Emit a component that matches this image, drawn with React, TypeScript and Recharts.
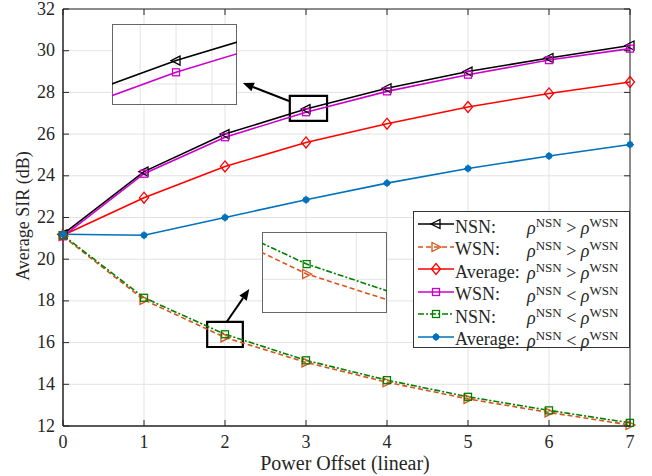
import React from 'react'
import {
  LineChart,
  Line,
  XAxis,
  YAxis,
  CartesianGrid,
  ReferenceArea,
  ReferenceLine,
  Legend,
  Label,
} from 'recharts'

const xVals = [0, 1, 2, 3, 4, 5, 6, 7]
const nsnHigh = [21.2, 24.2, 26.0, 27.2, 28.2, 29.0, 29.65, 30.25]
const wsnHigh = [21.1, 18.05, 16.25, 15.05, 14.1, 13.3, 12.65, 12.05]
const avgHigh = [21.15, 22.95, 24.45, 25.6, 26.5, 27.3, 27.95, 28.5]
const wsnLow = [21.1, 24.1, 25.85, 27.05, 28.05, 28.85, 29.55, 30.1]
const nsnLow = [21.15, 18.15, 16.4, 15.15, 14.2, 13.4, 12.75, 12.15]
const avgLow = [21.2, 21.15, 22.0, 22.85, 23.65, 24.35, 24.95, 25.5]

const xTicks = [0, 1, 2, 3, 4, 5, 6, 7]
const yTicks = [12, 14, 16, 18, 20, 22, 24, 26, 28, 30, 32]

const rows = xVals.map((x, i) => ({
  x,
  nsnHigh: nsnHigh[i],
  wsnHigh: wsnHigh[i],
  avgHigh: avgHigh[i],
  wsnLow: wsnLow[i],
  nsnLow: nsnLow[i],
  avgLow: avgLow[i],
}))

const FONT = '"Liberation Serif", "Times New Roman", serif'
const INK = '#262626'
const GRID = '#e3e3e3'

const PLOT_LEFT = 63
const PLOT_RIGHT = 630
const PLOT_TOP = 9
const PLOT_BOTTOM = 426

// markers
const triLeft = (color: string) => (p: any) => {
  const { cx, cy, index } = p
  if (cx == null || cy == null) return <g key={index} />
  return (
    <polygon
      key={index}
      points={`${cx - 5},${cy} ${cx + 4},${cy - 4.5} ${cx + 4},${cy + 4.5}`}
      fill="none"
      stroke={color}
      strokeWidth={1.3}
    />
  )
}
const triRight = (color: string) => (p: any) => {
  const { cx, cy, index } = p
  if (cx == null || cy == null) return <g key={index} />
  return (
    <polygon
      key={index}
      points={`${cx + 5},${cy} ${cx - 4},${cy - 4.5} ${cx - 4},${cy + 4.5}`}
      fill="none"
      stroke={color}
      strokeWidth={1.3}
    />
  )
}
const diamond = (color: string) => (p: any) => {
  const { cx, cy, index } = p
  if (cx == null || cy == null) return <g key={index} />
  return (
    <polygon
      key={index}
      points={`${cx},${cy - 5.5} ${cx + 4.5},${cy} ${cx},${cy + 5.5} ${cx - 4.5},${cy}`}
      fill="none"
      stroke={color}
      strokeWidth={1.3}
    />
  )
}
const square = (color: string) => (p: any) => {
  const { cx, cy, index } = p
  if (cx == null || cy == null) return <g key={index} />
  return <rect key={index} x={cx - 3.5} y={cy - 3.5} width={7} height={7} fill="none" stroke={color} strokeWidth={1.3} />
}
const star = (color: string) => (p: any) => {
  const { cx, cy, index } = p
  if (cx == null || cy == null) return <g key={index} />
  return (
    <g key={index}>
      <circle cx={cx} cy={cy} r={3.2} fill={color} />
      <path d={`M${cx - 4},${cy} L${cx + 4},${cy} M${cx},${cy - 4} L${cx},${cy + 4}`} stroke={color} strokeWidth={1.2} />
    </g>
  )
}

const SERIES = [
  { key: 'nsnHigh', color: '#000000', dash: undefined, dot: triLeft('#000000'), who: 'NSN:', op: '>' },
  { key: 'wsnHigh', color: '#D95319', dash: '5 3', dot: triRight('#D95319'), who: 'WSN:', op: '>' },
  { key: 'avgHigh', color: '#FF0000', dash: undefined, dot: diamond('#FF0000'), who: 'Average:', op: '>' },
  { key: 'wsnLow', color: '#CC00CC', dash: undefined, dot: square('#CC00CC'), who: 'WSN:', op: '<' },
  { key: 'nsnLow', color: '#008000', dash: '6 2 2 2', dot: square('#008000'), who: 'NSN:', op: '<' },
  { key: 'avgLow', color: '#0072BD', dash: undefined, dot: star('#0072BD'), who: 'Average:', op: '<' },
]

const XTick = (p: any) => {
  const { x, payload } = p
  return (
    <g>
      <line x1={x} y1={PLOT_BOTTOM} x2={x} y2={PLOT_BOTTOM - 6} stroke={INK} />
      <line x1={x} y1={PLOT_TOP} x2={x} y2={PLOT_TOP + 6} stroke={INK} />
      <text x={x} y={PLOT_BOTTOM + 22} textAnchor="middle" fontFamily={FONT} fontSize={18} fill={INK}>
        {payload.value}
      </text>
    </g>
  )
}

const YTick = (p: any) => {
  const { y, payload } = p
  return (
    <g>
      <line x1={PLOT_LEFT} y1={y} x2={PLOT_LEFT + 6} y2={y} stroke={INK} />
      <line x1={PLOT_RIGHT} y1={y} x2={PLOT_RIGHT - 6} y2={y} stroke={INK} />
      <text x={PLOT_LEFT - 8} y={y + 5.5} textAnchor="end" fontFamily={FONT} fontSize={18} fill={INK}>
        {payload.value}
      </text>
    </g>
  )
}

const Arrow = (p: any) => {
  const { x1, y1, x2, y2 } = p
  const a = Math.atan2(y2 - y1, x2 - x1)
  const L = 11
  const W = 4.5
  const bx = x2 - L * Math.cos(a)
  const by = y2 - L * Math.sin(a)
  const nx = -Math.sin(a)
  const ny = Math.cos(a)
  return (
    <g>
      <line x1={x1} y1={y1} x2={bx} y2={by} stroke="#000" strokeWidth={2} />
      <polygon points={`${x2},${y2} ${bx + nx * W},${by + ny * W} ${bx - nx * W},${by - ny * W}`} fill="#000" />
    </g>
  )
}

function LegendBox() {
  return (
    <div
      style={{
        position: 'absolute',
        left: 413,
        top: 211,
        width: 217,
        height: 137,
        border: '1px solid #333',
        background: '#fff',
        fontFamily: FONT,
        fontSize: 18,
        color: INK,
        boxSizing: 'border-box',
        padding: '1px 0 0 3px',
      }}
    >
      {SERIES.map((s) => (
        <div key={s.key} style={{ height: 22.5, display: 'flex', alignItems: 'center', whiteSpace: 'nowrap' }}>
          <svg width={38} height={14} style={{ flex: 'none' }}>
            <line x1={1} y1={7} x2={37} y2={7} stroke={s.color} strokeWidth={1.5} strokeDasharray={s.dash} />
            {s.dot({ cx: 19, cy: 7, index: 0 })}
          </svg>
          <span style={{ display: 'inline-block', width: 72, paddingTop: 6 }}>{s.who}</span>
          <span style={{ paddingTop: 6 }}>
            <i>ρ</i>
            <sup style={{ fontSize: 13, verticalAlign: 7 }}>NSN</sup> {s.op} <i>ρ</i>
            <sup style={{ fontSize: 13, verticalAlign: 7 }}>WSN</sup>
          </span>
        </div>
      ))}
    </div>
  )
}

interface InsetProps {
  left: number
  top: number
  width: number
  height: number
  xDomain: [number, number]
  yDomain: [number, number]
  xTicks: number[]
  yTicks: number[]
  keys: string[]
}

function Inset({ left, top, width, height, xDomain, yDomain, xTicks, yTicks, keys }: InsetProps) {
  return (
    <div style={{ position: 'absolute', left, top, width, height, background: '#fff' }}>
      <LineChart width={width} height={height} data={rows} margin={{ top: 0, right: 0, bottom: 0, left: 0 }}>
        <CartesianGrid stroke={GRID} />
        <XAxis dataKey="x" type="number" domain={xDomain} ticks={xTicks} allowDataOverflow hide />
        <YAxis type="number" domain={yDomain} ticks={yTicks} allowDataOverflow hide />
        {SERIES.filter((s) => keys.includes(s.key)).map((s) => (
          <Line
            key={s.key}
            type="linear"
            dataKey={s.key}
            stroke={s.color}
            strokeWidth={1.6}
            strokeDasharray={s.dash}
            dot={s.dot}
            activeDot={false}
            isAnimationActive={false}
          />
        ))}
        <ReferenceArea
          x1={xDomain[0]}
          x2={xDomain[1]}
          y1={yDomain[0]}
          y2={yDomain[1]}
          fill="none"
          stroke="#666"
          strokeWidth={2}
          ifOverflow="visible"
        />
      </LineChart>
    </div>
  )
}

export default function App() {
  return (
    <div style={{ position: 'absolute', left: 0, top: 0, width: 652, height: 476, background: '#fff' }}>
      <LineChart
        width={652}
        height={476}
        data={rows}
        margin={{ top: PLOT_TOP, right: 652 - PLOT_RIGHT, bottom: 0, left: 0 }}
      >
        <CartesianGrid stroke={GRID} />
        <XAxis
          dataKey="x"
          type="number"
          domain={[0, 7]}
          ticks={xTicks}
          height={476 - PLOT_BOTTOM}
          tick={XTick}
          tickLine={false}
          axisLine={{ stroke: INK }}
        >
          <Label
            content={() => (
              <text x={345} y={470} textAnchor="middle" fontFamily={FONT} fontSize={20} fill={INK}>
                Power Offset (linear)
              </text>
            )}
          />
        </XAxis>
        <YAxis
          type="number"
          domain={[12, 32]}
          ticks={yTicks}
          width={PLOT_LEFT}
          tick={YTick}
          tickLine={false}
          axisLine={{ stroke: INK }}
        >
          <Label
            content={() => (
              <text
                x={29}
                y={216}
                textAnchor="middle"
                fontFamily={FONT}
                fontSize={18}
                fill={INK}
                transform="rotate(-90 29 216)"
              >
                Average SIR (dB)
              </text>
            )}
          />
        </YAxis>
        <ReferenceArea x1={0} x2={7} y1={12} y2={32} fill="none" stroke={INK} strokeWidth={1} />
        {SERIES.map((s) => (
          <Line
            key={s.key}
            type="linear"
            dataKey={s.key}
            stroke={s.color}
            strokeWidth={1.6}
            strokeDasharray={s.dash}
            dot={s.dot}
            activeDot={false}
            isAnimationActive={false}
          />
        ))}
        <ReferenceArea x1={2.8} x2={3.26} y1={26.63} y2={27.83} fill="none" stroke="#000" strokeWidth={2.2} />
        <ReferenceArea x1={1.78} x2={2.22} y1={15.79} y2={16.99} fill="none" stroke="#000" strokeWidth={2.2} />
        <ReferenceLine
          segment={[
            { x: 2.79, y: 27.59 },
            { x: 2.22, y: 28.45 },
          ]}
          ifOverflow="visible"
          shape={Arrow}
        />
        <ReferenceLine
          segment={[
            { x: 2.02, y: 16.99 },
            { x: 2.3, y: 18.57 },
          ]}
          ifOverflow="visible"
          shape={Arrow}
        />
        <Legend content={() => null} />
      </LineChart>
      <LegendBox />
      <Inset
        left={112}
        top={24}
        width={125}
        height={81}
        xDomain={[2.75, 3.238]}
        yDomain={[26.63, 27.67]}
        xTicks={[2.86, 3, 3.14]}
        yTicks={[26.9]}
        keys={['nsnHigh', 'wsnLow']}
      />
      <Inset
        left={262}
        top={232}
        width={125}
        height={81}
        xDomain={[1.82, 2.324]}
        yDomain={[15.66, 16.885]}
        xTicks={[2, 2.2]}
        yTicks={[16.17]}
        keys={['wsnHigh', 'nsnLow']}
      />
    </div>
  )
}
